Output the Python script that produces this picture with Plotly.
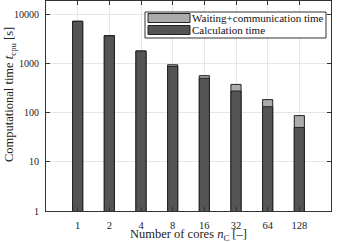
import plotly.graph_objects as go

cores = ["1", "2", "4", "8", "16", "32", "64", "128"]
calc_time = [7200, 3650, 1780, 870, 500, 275, 132, 50]
wait_time = [20, 50, 20, 70, 65, 100, 52, 37]
total_time = [c + w for c, w in zip(calc_time, wait_time)]

W, H = 341, 242
L, R, T, B = 46, 10, 1, 31
PW, PH = W - L - R, H - T - B

FONT = "Liberation Serif"
DARK = "#545454"
LIGHT = "#ababab"

fig = go.Figure()
fig.add_trace(go.Bar(x=cores, y=total_time, name="Waiting+communication time",
                     marker=dict(color=LIGHT, line=dict(color="#222222", width=1)),
                     width=0.32, showlegend=False, hoverinfo="skip"))
fig.add_trace(go.Bar(x=cores, y=calc_time, name="Calculation time",
                     marker=dict(color=DARK, line=dict(color="#222222", width=1)),
                     width=0.32, showlegend=False, hoverinfo="skip"))

def px2paper(x, y):
    return (x - L) / PW, 1 - (y - T) / PH

shapes = []
annotations = []
x0, y0 = px2paper(145, 12)
x1, y1 = px2paper(326, 38)
shapes.append(dict(type="rect", xref="paper", yref="paper", x0=x0, y0=y1, x1=x1, y1=y0,
                   fillcolor="white", line=dict(color="#333333", width=1), layer="above"))
items = [("Waiting+communication time", LIGHT, 13.5, 22.5),
         ("Calculation time", DARK, 25.5, 34.5)]
for label, col, ya, yb in items:
    ax0, ay0 = px2paper(148, ya)
    ax1, ay1 = px2paper(190, yb)
    shapes.append(dict(type="rect", xref="paper", yref="paper", x0=ax0, y0=ay1, x1=ax1, y1=ay0,
                       fillcolor=col, line=dict(color="#222222", width=1), layer="above"))
    tx, ty = px2paper(190, (ya + yb) / 2)
    annotations.append(dict(xref="paper", yref="paper", x=tx, y=ty, text=label,
                            showarrow=False, xanchor="left", yanchor="middle",
                            font=dict(family=FONT, size=11, color="#111111")))

tx, ty = px2paper((L + W - R) / 2, 235)
annotations.append(dict(xref="paper", yref="paper", x=tx, y=ty,
                        text="Number of cores <i>n</i><sub>C</sub> [–]",
                        showarrow=False, xanchor="center", yanchor="middle",
                        font=dict(family=FONT, size=12.5, color="#222222")))
tx, ty = px2paper(10, 95)
annotations.append(dict(xref="paper", yref="paper", x=tx, y=ty,
                        text="Computational time <i>t</i><sub>cpu</sub> [s]",
                        showarrow=False, xanchor="center", yanchor="middle", textangle=-90,
                        font=dict(family=FONT, size=12.5, color="#222222")))

fig.update_layout(
    width=W, height=H,
    margin=dict(l=L, r=R, t=T, b=B, pad=0),
    barmode="overlay",
    plot_bgcolor="white", paper_bgcolor="white",
    font=dict(family=FONT, size=10, color="#222222"),
    shapes=shapes, annotations=annotations,
    showlegend=False, hovermode=False,
)
fig.update_xaxes(type="category", categoryorder="array", categoryarray=cores,
                 range=[-1, 8], showgrid=True, gridcolor="#e6e6e6", gridwidth=1,
                 showline=True, linecolor="#333333", linewidth=1, mirror="ticks",
                 ticks="inside", ticklen=4, tickcolor="#333333",
                 ticklabelstandoff=4,
                 tickfont=dict(family=FONT, size=10.5))
fig.update_yaxes(type="log", range=[0, 4.27], showgrid=True, gridcolor="#e6e6e6",
                 gridwidth=1, tickvals=[1, 10, 100, 1000, 10000],
                 ticktext=["1", "10", "100", "1000", "10000"],
                 showline=True, linecolor="#333333", linewidth=1, mirror="ticks",
                 ticks="inside", ticklen=4, tickcolor="#333333",
                 ticklabelstandoff=4,
                 tickfont=dict(family=FONT, size=10))

fig.write_html("out.html", config={"displayModeBar": False},
               post_script="document.body.style.margin='0';")
